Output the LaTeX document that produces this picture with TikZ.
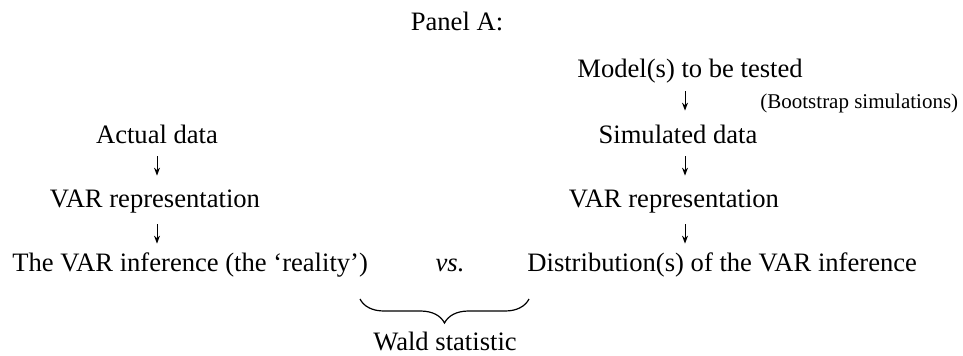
\documentclass[tikz,border=0pt]{standalone}
\usepackage{fontspec}
\setmainfont{Liberation Serif}
\usetikzlibrary{arrows.meta,decorations.pathreplacing}

\begin{document}
\begin{tikzpicture}[x=0.5pt, y=-0.5pt,
                    main node/.style={inner sep=0pt, anchor=base, text height=9pt, text depth=3pt,
                                      font=\fontsize{13.3}{16}\selectfont},
                    note node/.style={inner sep=0pt, anchor=base west, font=\fontsize{10.5}{12}\selectfont},
                    arr/.style={-{Stealth[length=4pt,width=3pt]}, line width=0.5pt}]
    \useasboundingbox (0,0) rectangle (963,355);

    \node[main node] (title) at (457,30) {Panel A:};

    % left column
    \node[main node] (1) at (157,143) {Actual data};
    \node[main node] (2) at (155,207) {VAR representation};
    \node[main node, anchor=base west] (3) at (12,271) {The VAR inference (the `reality')};

    % right column
    \node[main node] (4) at (690,77) {Model(s) to be tested};
    \node[note node] (5) at (760,108) {(Bootstrap simulations)};
    \node[main node] (6) at (678,143) {Simulated data};
    \node[main node] (7) at (674,207) {VAR representation};
    \node[main node, anchor=base west] (8) at (527,271) {Distribution(s) of the VAR inference};

    \node[main node] (vs) at (450,271) {\textit{vs.}};

    \coordinate (bl) at (360,299);
    \coordinate (br) at (529,299);
    \node[main node] (wald) at (445,350) {Wald statistic};

    \draw[arr, shorten <=3.5pt, shorten >=6.5pt] (1.south -| 157,0) -- (2.north -| 157,0);
    \draw[arr, shorten <=5.5pt, shorten >=4.5pt] (2.south -| 157,0) -- (3.north -| 157,0);
    \draw[arr, shorten <=4pt, shorten >=7pt] (4.south -| 685,0) -- (6.north -| 685,0);
    \draw[arr, shorten <=3.5pt, shorten >=6.5pt] (6.south -| 685,0) -- (7.north -| 685,0);
    \draw[arr, shorten <=5.5pt, shorten >=4.5pt] (7.south -| 685,0) -- (8.north -| 685,0);

    \draw[line width=0.6pt, decorate, decoration={brace, mirror, amplitude=12pt}] (bl) -- (br);
\end{tikzpicture}
\end{document}
